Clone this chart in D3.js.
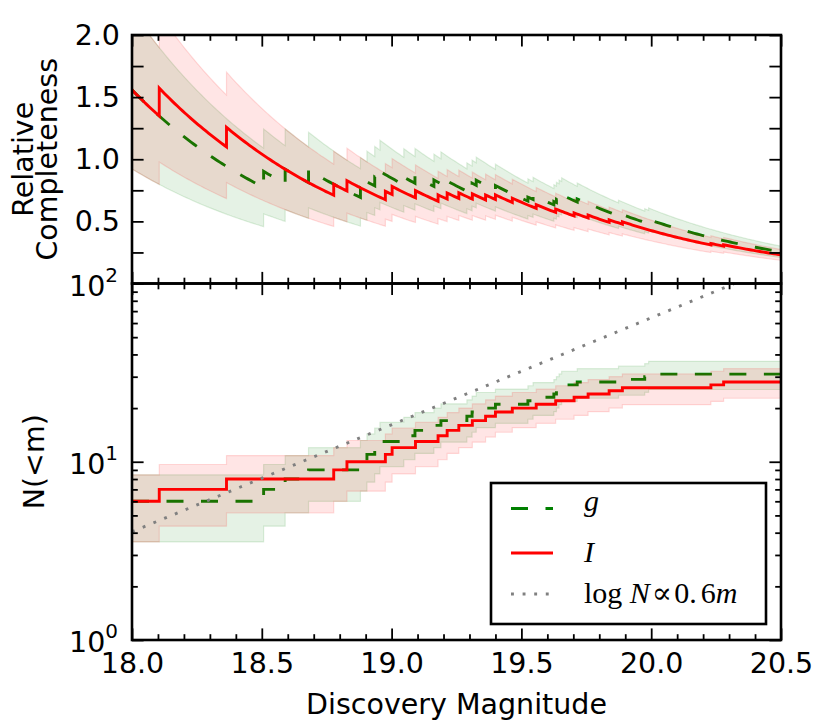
<!DOCTYPE html>
<html><head><meta charset="utf-8">
<script src="https://cdn.jsdelivr.net/npm/d3@7"></script>
<style>
body{margin:0;background:#fff}
svg{display:block}
</style>
</head><body>
<svg id="c" width="830" height="727" font-family="DejaVu Sans"></svg>
<script>
// ---------------- data ----------------
const magDomain = [18.0, 20.5];
const xMajorTicks = [18.0, 18.5, 19.0, 19.5, 20.0, 20.5];
const relTicks = [0.5, 1.0, 1.5, 2.0];
const relAllTicks = [0.25, 0.5, 0.75, 1.0, 1.25, 1.5, 1.75, 2.0];
const logMajor = [1, 10, 100];
const logExp = ["0", "1", "2"];

// g band: magnitudes where cumulative count steps, and counts
const gMag = [18.0,18.507,18.59,18.68,18.88,18.905,18.935,18.955,19.047,19.09,19.163,19.19,19.29,19.31,19.326,19.40,19.525,19.545,19.625,19.635,19.645,19.655,19.715,19.874,19.975,19.99];
const gN   = [6,7,8,9,10,11,12,13,14,15,16,17,18,19,20,21,22,23,24,25,26,27,28,29,30,31];
const gLo  = [3.55,4.35,5.17,6.00,6.84,7.68,8.54,9.39,10.26,11.13,12.00,12.88,13.76,14.64,15.53,16.42,17.31,18.20,19.10,20.00,20.90,21.80,22.71,23.61,24.52,25.43];
const gHi  = [8.45,9.65,10.83,12.00,13.16,14.32,15.46,16.61,17.74,18.87,20.00,21.12,22.24,23.36,24.47,25.58,26.69,27.80,28.90,30.00,31.10,32.20,33.29,34.39,35.48,36.57];

// I band
const iMag = [18.0,18.105,18.364,18.777,18.828,18.976,19.002,19.092,19.179,19.214,19.259,19.311,19.362,19.40,19.465,19.557,19.632,19.703,19.757,19.838,19.889,20.230,20.279];
const iN   = [6,7,8,9,10,11,12,13,14,15,16,17,18,19,20,21,22,23,24,25,26,27,28];
const iLo  = [3.55,4.35,5.17,6.00,6.84,7.68,8.54,9.39,10.26,11.13,12.00,12.88,13.76,14.64,15.53,16.42,17.31,18.20,19.10,20.00,20.90,21.80,22.71];
const iHi  = [8.45,9.65,10.83,12.00,13.16,14.32,15.46,16.61,17.74,18.87,20.00,21.12,22.24,23.36,24.47,25.58,26.69,27.80,28.90,30.00,31.10,32.20,33.29];

// reference power law  log N ∝ 0.6 m
const refSlope = 0.6;
const refM0 = 18.0;
const refLineN0 = 4.05;   // dotted line normalisation at m0
const relNorm = 3.85;     // normalisation used for relative completeness
const refMags = [18.0, 20.5];

// ---------------- layout ----------------
const X0 = 132, X1 = 781, TT = 35, MID = 283.5, BB = 640;
const RED = "#ff0000", GREEN = "#008000";
const FS = 28.5;

const svg = d3.select("#c");
const x = d3.scaleLinear().domain(magDomain).range([X0, X1]);
const yRel = d3.scaleLinear().domain([0, 2]).range([MID, TT]);
const yN = d3.scaleLog().domain([1, 100]).range([BB, MID]);

const defs = svg.append("defs");
defs.append("clipPath").attr("id", "clipTop").append("rect")
  .attr("x", X0).attr("y", TT).attr("width", X1 - X0).attr("height", MID - TT);
defs.append("clipPath").attr("id", "clipBot").append("rect")
  .attr("x", X0).attr("y", MID).attr("width", X1 - X0).attr("height", BB - MID);

const refAt = m => Math.pow(10, refSlope * (m - refM0));

function segs(mags) {
  const pts = [];
  for (let i = 0; i < mags.length; i++) {
    const a = mags[i], b = i + 1 < mags.length ? mags[i + 1] : magDomain[1];
    const n = Math.max(2, Math.ceil((b - a) / 0.01));
    for (let k = 0; k <= n; k++) pts.push({ m: a + (b - a) * k / n, i });
  }
  return pts;
}
function steps(mags) {
  const pts = mags.map((m, i) => ({ m, i }));
  pts.push({ m: magDomain[1], i: mags.length - 1 });
  return pts;
}

const series = [
  { mag: gMag, n: gN, lo: gLo, hi: gHi, color: GREEN, dash: "17,17.5" },
  { mag: iMag, n: iN, lo: iLo, hi: iHi, color: RED, dash: null }
];

// ---------------- top panel ----------------
const gTop = svg.append("g").attr("clip-path", "url(#clipTop)");
series.forEach(s => {
  const pts = segs(s.mag);
  const rel = (p, arr) => arr[p.i] / (relNorm * refAt(p.m));
  gTop.append("path").datum(pts)
    .attr("d", d3.area().x(p => x(p.m)).y0(p => yRel(rel(p, s.lo))).y1(p => yRel(rel(p, s.hi))))
    .attr("fill", s.color).attr("fill-opacity", 0.1)
    .attr("stroke", s.color).attr("stroke-opacity", 0.13).attr("stroke-width", 1.2);
  gTop.append("path").datum(pts)
    .attr("d", d3.line().x(p => x(p.m)).y(p => yRel(rel(p, s.n))))
    .attr("fill", "none").attr("stroke", s.color).attr("stroke-width", 2.9)
    .attr("stroke-dasharray", s.dash);
});

// ---------------- bottom panel ----------------
const gBot = svg.append("g").attr("clip-path", "url(#clipBot)");
series.forEach(s => {
  const pts = steps(s.mag);
  gBot.append("path").datum(pts)
    .attr("d", d3.area().curve(d3.curveStepAfter).x(p => x(p.m)).y0(p => yN(s.lo[p.i])).y1(p => yN(s.hi[p.i])))
    .attr("fill", s.color).attr("fill-opacity", 0.1)
    .attr("stroke", s.color).attr("stroke-opacity", 0.13).attr("stroke-width", 1.2);
  gBot.append("path").datum(pts)
    .attr("d", d3.line().curve(d3.curveStepAfter).x(p => x(p.m)).y(p => yN(s.n[p.i])))
    .attr("fill", "none").attr("stroke", s.color).attr("stroke-width", 2.9)
    .attr("stroke-dasharray", s.dash);
});
gBot.append("path").datum(refMags)
  .attr("d", d3.line().x(m => x(m)).y(m => yN(refLineN0 * refAt(m))))
  .attr("fill", "none").attr("stroke", "#808080").attr("stroke-width", 2.9)
  .attr("stroke-dasharray", "2.9,8.7");

// ---------------- axes ----------------
const MAJ = 11.6, MIN = 5.8;
const xMinor = d3.range(180, 206).map(v => v / 10).filter(v => !xMajorTicks.some(t => Math.abs(t - v) < 1e-6));
const logMinor = [2,3,4,5,6,7,8,9,20,30,40,50,60,70,80,90];

function styleAxis(g) {
  g.select(".domain").remove();
  g.selectAll(".tick line").attr("stroke", "#000").attr("stroke-width", 1.8);
  g.selectAll("text").style("font-family", "'DejaVu Sans'").style("font-size", FS + "px").attr("fill", "#000");
}
function addX(yPos, dirUp, withLabels) {
  const ax = (dirUp ? d3.axisBottom : d3.axisTop)(x);
  const g1 = svg.append("g").attr("transform", `translate(0,${yPos})`)
    .call(ax.tickValues(xMajorTicks).tickSize(-MAJ).tickPadding(12)
      .tickFormat(withLabels ? d3.format(".1f") : () => ""));
  styleAxis(g1);
  const ax2 = (dirUp ? d3.axisBottom : d3.axisTop)(x);
  const g2 = svg.append("g").attr("transform", `translate(0,${yPos})`)
    .call(ax2.tickValues(xMinor).tickSize(-MIN).tickFormat(() => ""));
  styleAxis(g2);
  return g1;
}
addX(TT, false, false);
addX(MID, true, false);
addX(MID, false, false);
const xb = addX(BB, true, true);
xb.selectAll("text").attr("dy", null).attr("y", 33);

// top panel y ticks
const ylL = svg.append("g").attr("transform", `translate(${X0},0)`)
  .call(d3.axisLeft(yRel).tickValues(relAllTicks).tickSize(-MAJ).tickPadding(12)
    .tickFormat(d => relTicks.some(t => Math.abs(t - d) < 1e-9) ? d.toFixed(1) : ""));
styleAxis(ylL);
const yrR = svg.append("g").attr("transform", `translate(${X1},0)`)
  .call(d3.axisRight(yRel).tickValues(relAllTicks).tickSize(-MAJ).tickFormat(() => ""));
styleAxis(yrR);

// bottom panel log ticks
function addLogAxis(xPos, left) {
  const a1 = (left ? d3.axisLeft : d3.axisRight)(yN).tickValues(logMajor).tickSize(-MAJ).tickFormat(() => "");
  styleAxis(svg.append("g").attr("transform", `translate(${xPos},0)`).call(a1));
  const a2 = (left ? d3.axisLeft : d3.axisRight)(yN).tickValues(logMinor).tickSize(-MIN).tickFormat(() => "");
  styleAxis(svg.append("g").attr("transform", `translate(${xPos},0)`).call(a2));
}
addLogAxis(X0, true);
addLogAxis(X1, false);

logMajor.forEach((v, k) => {
  const yy = yN(v);
  const t = svg.append("text").attr("x", 118).attr("y", yy + 12)
    .attr("text-anchor", "end").style("font-size", FS + "px");
  t.append("tspan").text("10");
  t.append("tspan").style("font-size", "20px").attr("dy", -14).text(logExp[k]);
});

// spines
[[TT, MID], [MID, BB]].forEach(([a, b]) => {
  svg.append("rect").attr("x", X0).attr("y", a).attr("width", X1 - X0).attr("height", b - a)
    .attr("fill", "none").attr("stroke", "#000").attr("stroke-width", 2.6);
});

// axis labels
svg.append("text").attr("x", (X0 + X1) / 2).attr("y", 714).attr("text-anchor", "middle")
  .style("font-size", FS + "px").text("Discovery Magnitude");
svg.append("text").attr("transform", `translate(33,${(TT + MID) / 2}) rotate(-90)`)
  .attr("text-anchor", "middle").style("font-size", FS + "px").text("Relative");
svg.append("text").attr("transform", `translate(57,${(TT + MID) / 2}) rotate(-90)`)
  .attr("text-anchor", "middle").style("font-size", FS + "px").text("Completeness");
svg.append("text").attr("transform", `translate(44,${(MID + BB) / 2}) rotate(-90)`)
  .attr("text-anchor", "middle").style("font-size", FS + "px").text("N(<m)");

// legend
const lg = svg.append("g");
lg.append("rect").attr("x", 491).attr("y", 483).attr("width", 275).attr("height", 141)
  .attr("fill", "#fff").attr("stroke", "#000").attr("stroke-width", 2.6);
const legendRows = [
  { y: 508.5, color: GREEN, dash: "17,17.5" },
  { y: 553, color: RED, dash: null },
  { y: 594, color: "#808080", dash: "2.9,8.7" }
];
legendRows.forEach(r => {
  lg.append("line").attr("x1", 511).attr("x2", 553).attr("y1", r.y).attr("y2", r.y)
    .attr("stroke", r.color).attr("stroke-width", 2.9).attr("stroke-dasharray", r.dash);
});
const serif = "'Liberation Serif', 'DejaVu Serif', serif";
lg.append("text").attr("x", 584).attr("y", 511).style("font-family", serif)
  .style("font-style", "italic").style("font-size", "30px").text("g");
lg.append("text").attr("x", 584).attr("y", 562).style("font-family", serif)
  .style("font-style", "italic").style("font-size", "30px").text("I");
const lt = lg.append("text").attr("x", 584).attr("y", 603).style("font-family", serif).style("font-size", "30px");
lt.append("tspan").text("log ");
lt.append("tspan").style("font-style", "italic").text("N");
lt.append("tspan").attr("dx", 2).text("\u221D");
lt.append("tspan").attr("dx", 2).text("0.");
lt.append("tspan").attr("dx", 4).text("6");
lt.append("tspan").style("font-style", "italic").text("m");
</script>
</body></html>
